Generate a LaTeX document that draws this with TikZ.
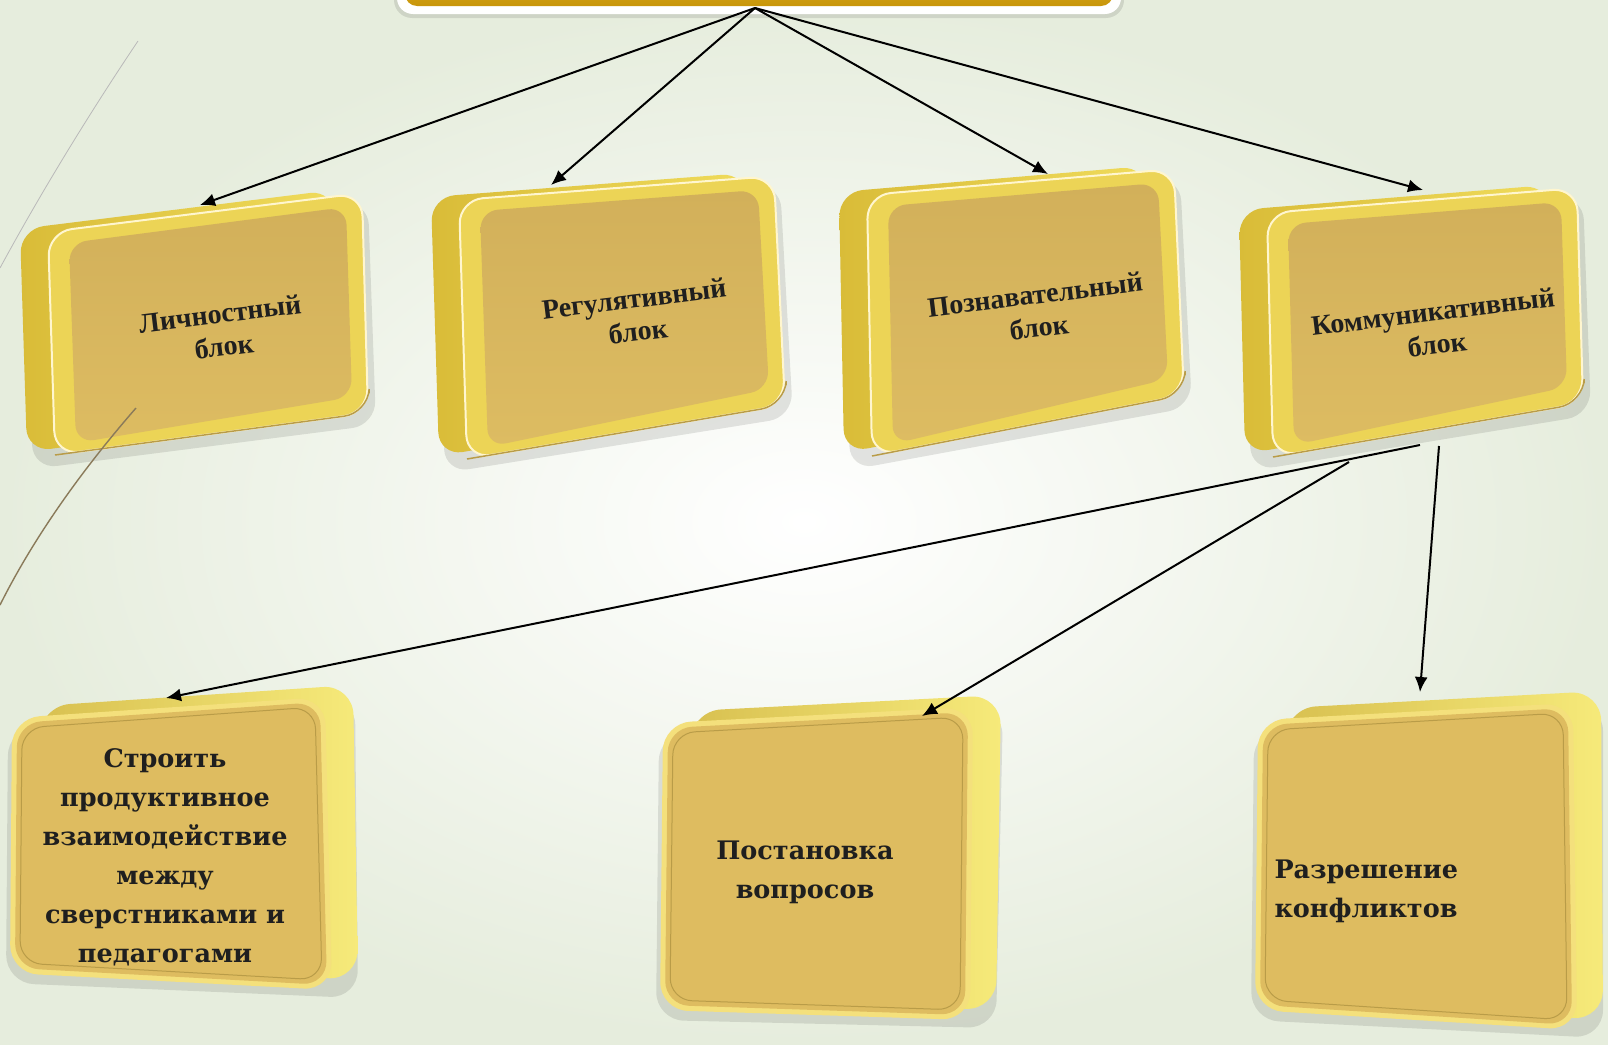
\documentclass[tikz,border=0pt]{standalone}
\usepackage{fontspec}
\setmainfont{Liberation Serif}
\newfontfamily\slabfont{DejaVu Serif}
\usetikzlibrary{arrows.meta,calc}
\definecolor{bgout}{HTML}{E6EDDD}
\definecolor{titleT}{HTML}{E3B52A}
\definecolor{titleB}{HTML}{C8960A}
\definecolor{backL}{HTML}{D9BC38}
\definecolor{backR}{HTML}{F0DC5C}
\definecolor{rimy}{HTML}{ECD456}
\definecolor{cream}{HTML}{FFF6CF}
\definecolor{faceT}{HTML}{D2B05A}
\definecolor{faceB}{HTML}{DDBC62}
\definecolor{botface}{HTML}{DEBC60}
\definecolor{botbackL}{HTML}{D8C050}
\definecolor{botbackR}{HTML}{F6EA7A}
\definecolor{rimlight}{HTML}{F4E07C}
\definecolor{rimdark}{HTML}{B99C48}
\definecolor{decoline}{HTML}{8A7A5A}
\newcommand{\topcard}[8]{%
  \fill[black, opacity=.10, rounded corners=24pt] ({#1-24},{#2+8}) -- ({#3+6},{#4+8}) -- ({#5+8},{#6+12}) -- ({#7-22},{#8+14}) -- cycle;
  \shade[left color=backL, right color=backR, rounded corners=24pt] ({#1-28},{#2-3}) -- ({#3-28},{#4-3}) -- ({#5-28},{#6-3}) -- ({#7-28},{#8-3}) -- cycle;
  \draw[cream, line width=2pt, fill=rimy, rounded corners=24pt] (#1,#2) -- (#3,#4) -- (#5,#6) -- (#7,#8) -- cycle;
  \draw[rimdark, line width=1.5pt, rounded corners=24pt] ({#5+1},{#6-20}) -- (#5,#6) -- (#7,#8);
  \shade[top color=faceT, bottom color=faceB, rounded corners=18pt] ({#1+21},{#2+11}) -- ({#3-16},{#4+14}) -- ({#5-16},{#6-16}) -- ({#7+21},{#8-12}) -- cycle;
}
\newcommand{\botcard}[8]{%
  \fill[black, opacity=.10, rounded corners=28pt] ({#1-4},{#2+10}) -- ({#3+30},{#4}) -- ({#5+26},{#6+8}) -- ({#7-4},{#8+10}) -- cycle;
  \shade[left color=botbackL, right color=botbackR, rounded corners=30pt] ({#1+28},{#2-12}) -- ({#3+28},{#4-12}) -- ({#5+26},{#6-10}) -- ({#7+28},{#8-12}) -- cycle;
  \fill[rimlight, rounded corners=28pt] (#1,#2) -- (#3,#4) -- (#5,#6) -- (#7,#8) -- cycle;
  \fill[botface, rounded corners=24pt] ({#1+5},{#2+5}) -- ({#3-5},{#4+5}) -- ({#5-5},{#6-5}) -- ({#7+5},{#8-5}) -- cycle;
  \draw[rimdark, line width=1pt, rounded corners=22pt] ({#1+10},{#2+10}) -- ({#3-10},{#4+10}) -- ({#5-10},{#6-10}) -- ({#7+10},{#8-10}) -- cycle;
}
\begin{document}
\begin{tikzpicture}[x=1pt,y=-1pt,
  arr/.style={draw=black, line width=2pt, -{Latex[length=15pt,width=13pt]}},
  toptxt/.style={font=\bfseries\fontsize{28}{33}\selectfont, align=center, text=black!88, rotate=7, inner sep=1pt},
  bottxt/.style={font=\slabfont\bfseries\fontsize{25.5}{39}\selectfont, align=center, text=black!88},
]
\useasboundingbox (0,0) rectangle (1608,1044);
\shade[inner color=white, outer color=bgout] (0,0) rectangle (1608,1044);
% title box (cut off at top)
\fill[black, opacity=.10, rounded corners=18pt] (394,-40) rectangle (1124,18);
\fill[white, rounded corners=16pt] (397,-40) rectangle (1121,14);
\shade[top color=titleT, bottom color=titleB, rounded corners=12pt] (405,-40) rectangle (1113,6);
\coordinate (src) at (755,8);
% top cards
\topcard{48}{232}{362}{193}{368}{413}{55}{455}
\topcard{459}{200}{774}{176}{785}{405}{467}{459}
\topcard{867}{195}{1174}{169}{1184}{395}{872}{456}
\topcard{1267}{213}{1577}{188}{1583}{403}{1273}{457}
\node[toptxt] (t1) at (222,330) {Личностный\\блок};
\node[toptxt] (t2) at (636,315) {Регулятивный\\блок};
\node[toptxt] (t3) at (1037,311) {Познавательный\\блок};
\node[toptxt] (t4) at (1435,328) {Коммуникативный\\блок};
% bottom cards
\botcard{12}{718}{325}{697}{332}{990}{10}{973}
\botcard{663}{723}{973}{707}{970}{1020}{660}{1010}
\botcard{1258}{720}{1573}{703}{1577}{1030}{1255}{1010}
\node[bottxt] (t5) at (165,857) {Строить\\продуктивное\\взаимодействие\\между\\сверстниками и\\педагогами};
\node[bottxt] (t6) at (805,872) {Постановка\\вопросов};
\node[bottxt, anchor=west, align=left] (t7) at (1271,891) {Разрешение\\конфликтов};
% decorative lines
\draw[gray!55, line width=0.8pt] (138,41) .. controls (95,105) and (45,185) .. (0,268);
\draw[decoline, line width=1.4pt] (136,408) .. controls (95,455) and (40,525) .. (0,605);
% arrow anchors
\coordinate (a1) at (200,205);
\coordinate (a2) at (551,185);
\coordinate (a3) at (1048,174);
\coordinate (a4) at (1423,190);
\coordinate (k1) at (1420,445);
\coordinate (k2) at (1349,462);
\coordinate (k3) at (1439,446);
\coordinate (a5) at (166,698);
\coordinate (a6) at (922,716);
\coordinate (a7) at (1420,692);
\draw[arr] (src) -- (a1);
\draw[arr] (src) -- (a2);
\draw[arr] (src) -- (a3);
\draw[arr] (src) -- (a4);
\draw[arr] (k1) -- (a5);
\draw[arr] (k2) -- (a6);
\draw[arr] (k3) -- (a7);
\end{tikzpicture}
\end{document}
